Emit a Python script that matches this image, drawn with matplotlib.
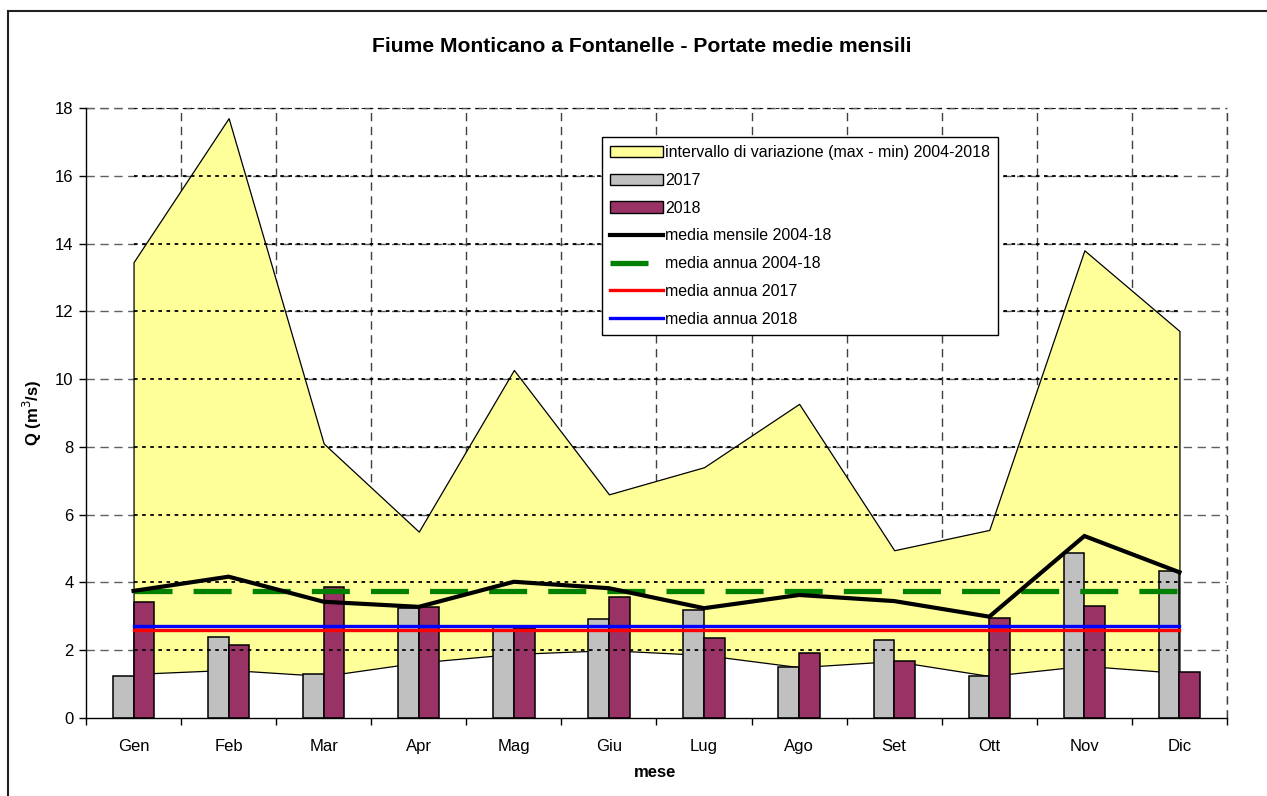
import matplotlib
matplotlib.use("Agg")
import matplotlib.pyplot as plt
from matplotlib.patches import Rectangle, Patch
from matplotlib.lines import Line2D
import numpy as np

plt.rcParams['font.family'] = ['Liberation Sans', 'DejaVu Sans']

months = ["Gen", "Feb", "Mar", "Apr", "Mag", "Giu", "Lug", "Ago", "Set", "Ott", "Nov", "Dic"]
q_max = [13.45, 17.7, 8.1, 5.5, 10.27, 6.6, 7.4, 9.27, 4.95, 5.55, 13.8, 11.42]
q_min = [1.30, 1.42, 1.24, 1.64, 1.89, 2.00, 1.86, 1.50, 1.68, 1.24, 1.54, 1.33]
q_2017 = [1.25, 2.40, 1.30, 3.24, 2.68, 2.92, 3.18, 1.50, 2.30, 1.24, 4.87, 4.34]
q_2018 = [3.41, 2.14, 3.87, 3.28, 2.65, 3.58, 2.35, 1.92, 1.69, 2.95, 3.30, 1.37]
media_mensile = [3.75, 4.17, 3.43, 3.28, 4.02, 3.83, 3.24, 3.63, 3.45, 2.99, 5.37, 4.30]
media_annua_0418 = 3.75
media_annua_2017 = 2.60
media_annua_2018 = 2.71

W, H = 1267, 796
fig = plt.figure(figsize=(W / 100, H / 100), dpi=100)
ax = fig.add_axes([86 / W, 1 - 718 / H, (1227 - 86) / W, (718 - 108) / H])

x = np.arange(len(months))
xs, xe = x[0], x[-1]

ax.set_xlim(-0.5, len(months) - 0.5)
ax.set_ylim(0, 18)

# grey dashed gridlines (behind)
for yv in range(2, 19, 2):
    ax.plot([-0.5, 11.5], [yv, yv], color='#606060', lw=1.0, ls=(0, (6, 4)), zorder=0.5)
for xv in np.arange(0.5, 12.0, 1.0):
    ax.plot([xv, xv], [0, 18], color='#404040', lw=1.0, ls=(0, (6, 4)), zorder=0.5)

# area min-max
ax.fill_between(x, 0, q_min, facecolor='white', edgecolor='none', zorder=1)
ax.fill_between(x, q_min, q_max, facecolor='#FFFF99', edgecolor='black', lw=0.9, zorder=1.1)

# dotted black gridlines over area
for yv in range(2, 19, 2):
    ax.plot([xs, xe], [yv, yv], color='black', lw=1.3, ls=(0, (2, 2.5)), zorder=2.5)

# bars
bw = 0.217
ax.bar(x - bw / 2, q_2017, width=bw, color='#C0C0C0', edgecolor='black', lw=1.1, zorder=2)
ax.bar(x + bw / 2, q_2018, width=bw, color='#993366', edgecolor='black', lw=1.1, zorder=2)

# lines
ax.plot([xs, xe], [media_annua_2017] * 2, color='#FF0000', lw=2.4, zorder=3)
ax.plot([xs, xe], [media_annua_2018] * 2, color='#0000FF', lw=2.4, zorder=3)
ax.plot([xs, xe], [media_annua_0418] * 2, color='#008000', lw=3.8, ls=(0, (7.2, 4.0)),
        dash_capstyle='butt', zorder=3.1)
ax.plot(x, media_mensile, color='black', lw=3.0, zorder=4, solid_joinstyle='miter')

# spines
for s in ['top', 'right']:
    ax.spines[s].set_visible(False)
ax.spines['left'].set_linewidth(1.0)
ax.spines['bottom'].set_linewidth(1.0)
ax.plot([-0.5, 11.5], [18, 18], color='#606060', lw=1.0, ls=(0, (6, 4)), zorder=0.6, clip_on=False)
ax.plot([11.5, 11.5], [0, 18], color='#404040', lw=1.0, ls=(0, (6, 4)), zorder=0.6, clip_on=False)

# ticks
ax.set_yticks(range(0, 19, 2))
ax.set_yticklabels([str(v) for v in range(0, 19, 2)], fontsize=12)
ax.tick_params(axis='y', direction='out', length=5, width=1, pad=4)
ax.set_xticks(x)
ax.set_xticklabels(months, fontsize=12)
ax.tick_params(axis='x', which='major', length=0, pad=15)
ax.set_xticks(np.arange(-0.5, 12.0, 1.0), minor=True)
ax.tick_params(axis='x', which='minor', direction='out', length=5, width=1)

ax.set_ylabel("Q (m$^3$/s)", fontsize=12, fontweight='bold')
ax.set_xlabel("mese", fontsize=12, fontweight='bold')
ax.yaxis.set_label_coords((44 - 86) / 1141, 0.5)
ax.xaxis.set_label_coords((655 - 86) / 1141, -(765 - 718) / 610)

fig.text(642 / W, 1 - 46 / H, "Fiume Monticano a Fontanelle - Portate medie mensili",
         ha='center', va='center', fontsize=15.2, fontweight='bold')

# legend
handles = [
    Patch(facecolor='#FFFF99', edgecolor='black', lw=1.0),
    Patch(facecolor='#C0C0C0', edgecolor='black', lw=1.0),
    Patch(facecolor='#993366', edgecolor='black', lw=1.0),
    Line2D([], [], color='black', lw=3.0),
    Line2D([], [], color='#008000', lw=3.8, ls=(0, (7.2, 4.0)), dash_capstyle='butt'),
    Line2D([], [], color='#FF0000', lw=2.4),
    Line2D([], [], color='#0000FF', lw=2.4),
]
labels = ["intervallo di variazione (max - min) 2004-2018", "2017", "2018",
          "media mensile 2004-18", "media annua 2004-18", "media annua 2017", "media annua 2018"]
leg = ax.legend(handles, labels, loc='upper left', bbox_to_anchor=((602 - 86) / 1141, (718 - 137) / 610),
                fontsize=11.5, frameon=True, fancybox=False, shadow=False, framealpha=1,
                edgecolor='black', handlelength=3.3, handletextpad=0.15, labelspacing=0.8,
                borderpad=0.5, borderaxespad=0)
leg.get_frame().set_linewidth(1.0)
leg.set_zorder(10)

# outer frame
fig.patches.append(Rectangle((8 / W, -0.1), 1.2, 1 - 11 / H + 0.1, transform=fig.transFigure,
                             fill=False, edgecolor='#202020', lw=1.5, zorder=0))

fig.savefig("out.png", dpi=100)
